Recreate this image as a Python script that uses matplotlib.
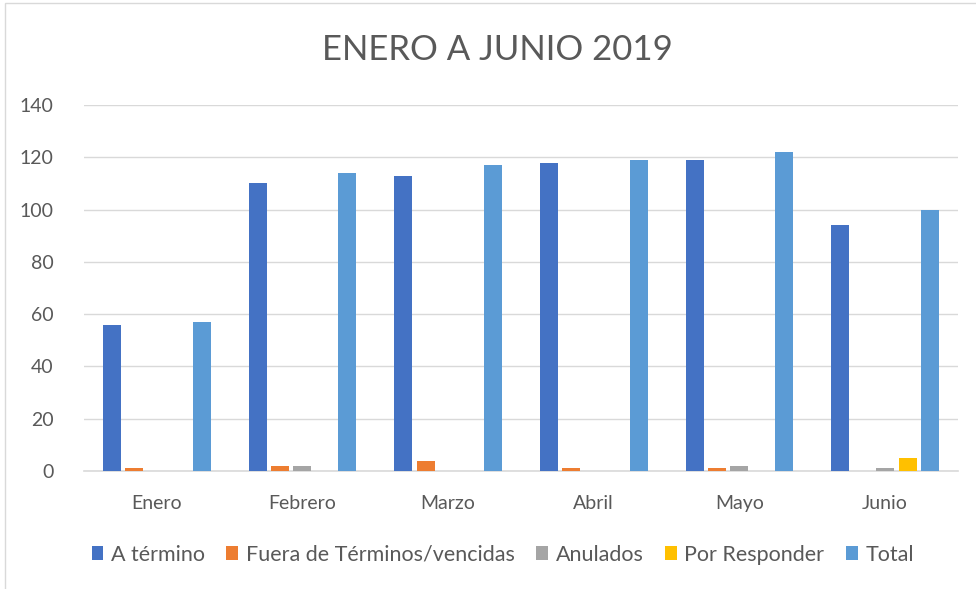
import numpy as np
import matplotlib

matplotlib.use('Agg')
import matplotlib.pyplot as plt
from matplotlib.patches import Rectangle

plt.rcParams['font.family'] = ['Lato', 'DejaVu Sans']

meses = ['Enero', 'Febrero', 'Marzo', 'Abril', 'Mayo', 'Junio']
a_termino = [56, 110, 113, 118, 119, 94]
fuera_termino = [1, 2, 4, 1, 1, 0]
anulados = [0, 2, 0, 0, 2, 1]
por_responder = [0, 0, 0, 0, 0, 5]
total = [57, 114, 117, 119, 122, 100]

series = [
    ('A término', a_termino, '#4472C4'),
    ('Fuera de Términos/vencidas', fuera_termino, '#ED7D31'),
    ('Anulados', anulados, '#A5A5A5'),
    ('Por Responder', por_responder, '#FFC000'),
    ('Total', total, '#5B9BD5'),
]

fig = plt.figure(figsize=(9.76, 5.89), dpi=100)
ax = fig.add_axes([0.086, 0.2003, 0.8955, 0.6214])

x = np.arange(len(meses))
width = 0.124
step = 0.154
for i, (name, vals, color) in enumerate(series):
    ax.bar(x + (i - 2) * step, vals, width, color=color, label=name, zorder=3)

ax.set_xlim(-0.5, len(meses) - 0.5)
ax.set_ylim(0, 140)
ax.set_yticks(range(0, 141, 20))
ax.set_xticks(x)
ax.set_xticklabels(meses)
ax.grid(axis='y', color='#D9D9D9', linewidth=1, zorder=0)
for s in ['top', 'right', 'left']:
    ax.spines[s].set_visible(False)
ax.spines['bottom'].set_color('#D9D9D9')
ax.spines['bottom'].set_linewidth(1.2)
ax.tick_params(axis='both', length=0, labelsize=14, colors='#595959')
ax.tick_params(axis='x', pad=17)
ax.tick_params(axis='y', pad=22)

fig.text(0.51, 0.915, 'ENERO A JUNIO 2019', ha='center', va='center',
         fontsize=25, color='#595959')

fig.legend(loc='center', bbox_to_anchor=(0.515, 0.058), ncol=5, frameon=False,
           fontsize=15.5, labelcolor='#595959', handlelength=0.55, handleheight=0.65,
           handletextpad=0.35, columnspacing=1.0)

fig.patches.append(Rectangle((0.005, -0.1), 1.2, 1.095, transform=fig.transFigure,
                             fill=False, edgecolor='#D9D9D9', linewidth=1))

fig.savefig('out.png', dpi=100)
